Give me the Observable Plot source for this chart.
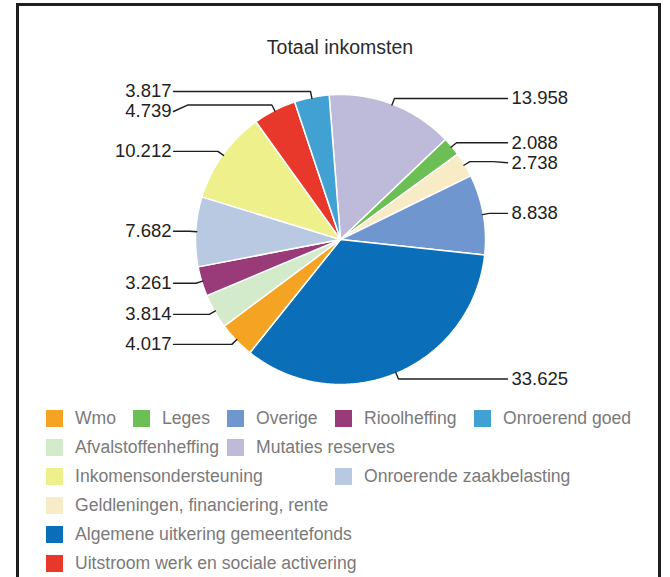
<!DOCTYPE html>
<html><head><meta charset="utf-8">
<script src="https://cdn.jsdelivr.net/npm/d3@7"></script>
<script src="https://cdn.jsdelivr.net/npm/@observablehq/plot@0.6"></script>
<style>
html,body{margin:0;padding:0;background:#fff;}
body{width:670px;height:577px;overflow:hidden;position:relative;font-family:"Liberation Sans",Arial,Helvetica,sans-serif;}
#frame{position:absolute;left:16px;top:3px;width:645px;height:640px;border:3px solid #1e1e1e;border-bottom:none;box-sizing:border-box;}
#title{position:absolute;left:0;width:680px;top:36px;text-align:center;font-size:19.5px;color:#2a2a2a;line-height:22px;}
#chart{position:absolute;left:0;top:0;}
.leg{position:absolute;display:flex;align-items:center;font-size:17.6px;color:#7a7a7a;white-space:nowrap;height:20px;line-height:20px;}
.sw{width:17px;height:17px;margin-right:12px;flex:none;}
</style></head>
<body>
<div id="frame"></div>
<div id="title">Totaal inkomsten</div>
<div id="chart"></div>
<div id="legend"></div>
<script>
// ---- data (clockwise from the top) ----
const categories = [
  "Mutaties reserves", "Leges", "Geldleningen, financiering, rente", "Overige",
  "Algemene uitkering gemeentefonds", "Wmo", "Afvalstoffenheffing", "Rioolheffing",
  "Onroerende zaakbelasting", "Inkomensondersteuning",
  "Uitstroom werk en sociale activering", "Onroerend goed"
];
const values = [13958, 2088, 2738, 8838, 33625, 4017, 3814, 3261, 7682, 10212, 4739, 3817];
const colors = [
  "#bdbbd9", "#6cbf55", "#f7ecc6", "#6f96cf",
  "#0a6fb8", "#f4a323", "#d4ebcb", "#9a3b79",
  "#b9c9e2", "#eef08c", "#e8372b", "#41a1d2"
];
// legend order and grid slots
const legendOrder = [
  "Wmo", "Leges", "Overige", "Rioolheffing", "Onroerend goed",
  "Afvalstoffenheffing", "Mutaties reserves",
  "Inkomensondersteuning", "Onroerende zaakbelasting",
  "Geldleningen, financiering, rente",
  "Algemene uitkering gemeentefonds",
  "Uitstroom werk en sociale activering"
];
const legendRow = [0, 0, 0, 0, 0, 1, 1, 2, 2, 3, 4, 5];
const legendCol = [0, 1, 2, 3, 4, 0, 2, 0, 3, 0, 0, 0];

// ---- layout ----
const W = 670, H = 577, CX = 340, CY = 239, R = 145;
const startDeg = -4.5;
const labelOffset = 171, lineEnd = 167, kink = 14, elbowOut = 6, minGap = 20;
const legendColX = [46, 133, 227, 335, 474];
const legendRowY = [418, 447, 476, 505, 534, 563];

const nl = d3.formatLocale({decimal: ",", thousands: ".", grouping: [3], currency: ["€", ""]});
const fmt = nl.format(",d");

const data = categories.map((name, i) => ({name, value: values[i], color: colors[i]}));
const rad = d => d * Math.PI / 180;
const arcs = d3.pie().sort(null).value(d => d.value)
  .startAngle(rad(startDeg)).endAngle(rad(startDeg + 360))(data);

const px = (a, r) => r * Math.sin(a);
const py = (a, r) => -r * Math.cos(a);

// slice polygons
const slicePts = [];
for (const s of arcs) {
  const n = Math.max(2, Math.ceil((s.endAngle - s.startAngle) / rad(0.5)));
  slicePts.push({name: s.data.name, x: 0, y: 0});
  for (let k = 0; k <= n; k++) {
    const a = s.startAngle + (s.endAngle - s.startAngle) * k / n;
    slicePts.push({name: s.data.name, x: px(a, R), y: py(a, R)});
  }
  slicePts.push({name: s.data.name, x: 0, y: 0});
}

// labels with simple top-down collision avoidance per side
const labels = arcs.map(s => {
  const a = (s.startAngle + s.endAngle) / 2;
  const side = Math.sin(a) >= 0 ? 1 : -1;
  return {name: s.data.name, text: fmt(s.data.value), a, side,
          ey: py(a, R + elbowOut), ex: px(a, R + elbowOut)};
});
for (const side of [1, -1]) {
  const group = labels.filter(d => d.side === side).sort((p, q) => p.ey - q.ey);
  let prev = -Infinity;
  for (const d of group) { d.ly = Math.max(d.ey, prev + minGap); prev = d.ly; }
}
const leaderPts = [];
for (const d of labels) {
  leaderPts.push({name: d.name, x: px(d.a, R - 1), y: py(d.a, R - 1)});
  leaderPts.push({name: d.name, x: d.ex, y: d.ey});
  leaderPts.push({name: d.name, x: d.side * (lineEnd - kink), y: d.ey});
  leaderPts.push({name: d.name, x: d.side * lineEnd, y: d.ly});
}

const chart = Plot.plot({
  width: W, height: H,
  marginTop: 0, marginRight: 0, marginBottom: 0, marginLeft: 0,
  x: {domain: [-CX, W - CX], range: [0, W], axis: null},
  y: {domain: [-CY, H - CY], range: [0, H], axis: null},
  color: {domain: categories, range: colors},
  style: {fontFamily: "'Liberation Sans', Arial, sans-serif", background: "transparent", overflow: "visible"},
  marks: [
    Plot.line(slicePts, {x: "x", y: "y", z: "name", fill: "name", stroke: "white", strokeWidth: 1.5, strokeLinejoin: "round"}),
    Plot.line(leaderPts, {x: "x", y: "y", z: "name", stroke: "#1f1f1f", strokeWidth: 1.4, strokeLinejoin: "miter"}),
    Plot.text(labels.filter(d => d.side > 0), {x: d => labelOffset, y: "ly", text: "text", textAnchor: "start", fontSize: 18.5, fill: "#222"}),
    Plot.text(labels.filter(d => d.side < 0), {x: d => -labelOffset + 2, y: "ly", text: "text", textAnchor: "end", fontSize: 18.5, fill: "#222"})
  ]
});
document.getElementById("chart").appendChild(chart);

// legend
const leg = document.getElementById("legend");
legendOrder.forEach((name, i) => {
  const el = document.createElement("div");
  el.className = "leg";
  el.style.left = legendColX[legendCol[i]] + "px";
  el.style.top = (legendRowY[legendRow[i]] - 10) + "px";
  const sw = document.createElement("div");
  sw.className = "sw";
  sw.style.background = colors[categories.indexOf(name)];
  const tx = document.createElement("span");
  tx.textContent = name;
  el.appendChild(sw); el.appendChild(tx);
  leg.appendChild(el);
});
</script>
</body></html>
